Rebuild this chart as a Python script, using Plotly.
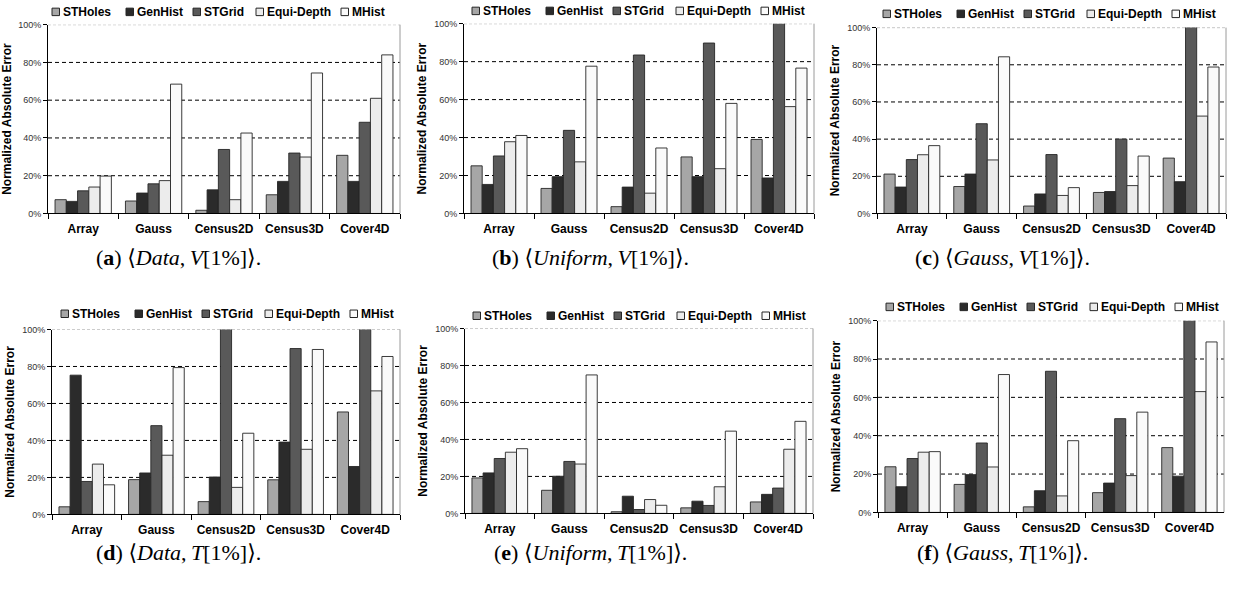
import plotly.graph_objects as go

W, H = 1236, 601

categories = ["Array", "Gauss", "Census2D", "Census3D", "Cover4D"]
methods = ["STHoles", "GenHist", "STGrid", "Equi-Depth", "MHist"]
colors = ["#a6a6a6", "#2b2b2b", "#595959", "#ececec", "#fafafa"]
y_ticks = [0, 20, 40, 60, 80, 100]
y_ticktext = ["0%", "20%", "40%", "60%", "80%", "100%"]

# (a) <Data, V[1%]>
a_stholes = [7.3, 6.6, 1.7, 9.9, 30.8]
a_genhist = [6.4, 10.8, 12.5, 17.0, 17.0]
a_stgrid = [12.0, 15.7, 33.9, 32.0, 48.3]
a_equidepth = [14.0, 17.4, 7.3, 29.9, 61.0]
a_mhist = [19.8, 68.5, 42.6, 74.4, 84.0]

# (b) <Uniform, V[1%]>
b_stholes = [25.1, 13.2, 3.6, 29.8, 39.0]
b_genhist = [15.3, 19.4, 13.9, 19.4, 18.7]
b_stgrid = [30.3, 43.8, 83.5, 89.8, 101.4]
b_equidepth = [37.8, 27.2, 10.7, 23.6, 56.3]
b_mhist = [41.1, 77.6, 34.5, 58.0, 76.6]

# (c) <Gauss, V[1%]>
c_stholes = [21.2, 14.5, 4.0, 11.3, 29.8]
c_genhist = [14.2, 21.2, 10.5, 11.8, 17.1]
c_stgrid = [29.0, 48.3, 31.7, 40.0, 101.4]
c_equidepth = [31.6, 28.8, 9.7, 15.0, 52.4]
c_mhist = [36.5, 84.3, 13.9, 30.9, 78.8]

# (d) <Data, T[1%]>
d_stholes = [4.1, 18.8, 6.9, 18.7, 55.4]
d_genhist = [75.3, 22.4, 20.2, 39.1, 25.9]
d_stgrid = [17.8, 48.0, 101.3, 89.7, 101.3]
d_equidepth = [27.2, 32.0, 14.6, 35.2, 66.8]
d_mhist = [16.0, 79.4, 43.9, 89.2, 85.4]

# (e) <Uniform, T[1%]>
e_stholes = [19.2, 12.5, 0.9, 3.0, 6.2]
e_genhist = [21.9, 20.1, 9.3, 6.6, 10.3]
e_stgrid = [29.7, 28.1, 2.1, 4.3, 13.7]
e_equidepth = [33.1, 26.7, 7.5, 14.4, 34.7]
e_mhist = [35.0, 74.9, 4.4, 44.5, 49.8]

# (f) <Gauss, T[1%]>
f_stholes = [23.8, 14.6, 2.9, 10.3, 33.8]
f_genhist = [13.4, 19.7, 11.3, 15.3, 18.9]
f_stgrid = [28.1, 36.2, 73.6, 48.9, 101.3]
f_equidepth = [31.4, 23.7, 8.6, 19.2, 63.0]
f_mhist = [31.7, 71.9, 37.4, 52.3, 88.9]

panels_values = [
    [a_stholes, a_genhist, a_stgrid, a_equidepth, a_mhist],
    [b_stholes, b_genhist, b_stgrid, b_equidepth, b_mhist],
    [c_stholes, c_genhist, c_stgrid, c_equidepth, c_mhist],
    [d_stholes, d_genhist, d_stgrid, d_equidepth, d_mhist],
    [e_stholes, e_genhist, e_stgrid, e_equidepth, e_mhist],
    [f_stholes, f_genhist, f_stgrid, f_equidepth, f_mhist],
]
captions = [
    "(<b>a</b>) \u27e8<i>Data</i>,\u2009<i>V</i>[1%]\u27e9.",
    "(<b>b</b>) \u27e8<i>Uniform</i>,\u2009<i>V</i>[1%]\u27e9.",
    "(<b>c</b>) \u27e8<i>Gauss</i>,\u2009<i>V</i>[1%]\u27e9.",
    "(<b>d</b>) \u27e8<i>Data</i>,\u2009<i>T</i>[1%]\u27e9.",
    "(<b>e</b>) \u27e8<i>Uniform</i>,\u2009<i>T</i>[1%]\u27e9.",
    "(<b>f</b>) \u27e8<i>Gauss</i>,\u2009<i>T</i>[1%]\u27e9.",
]

# layout geometry in pixels: (left, right, top, bottom)
boxes = [
    (48, 400, 20, 212),
    (464, 814, 19, 212),
    (877, 1226, 23, 212),
    (52, 400, 330, 518),
    (465, 813, 329, 517),
    (878, 1224, 321, 516),
]
legend_pos = [(52, 7), (472, 6), (883, 9), (61, 314), (473, 316), (886, 307)]
legend_offsets = [0, 74, 141, 204, 289]
caption_pos = [(178, 257), (590, 257), (1002, 257), (178, 557), (590, 557), (1002, 557)]


def X(px):
    return px / W


def Y(py):
    return 1 - py / H


fig = go.Figure()
shapes = []
annotations = []
layout_axes = {}

for i, vals in enumerate(panels_values):
    n = i + 1
    xa = "x" if n == 1 else f"x{n}"
    ya = "y" if n == 1 else f"y{n}"
    for m, name in enumerate(methods):
        fig.add_trace(go.Bar(
            x=categories, y=vals[m], name=name,
            xaxis=xa, yaxis=ya,
            marker=dict(color=colors[m], line=dict(color="#262626", width=0.9)),
            showlegend=False, cliponaxis=False, hoverinfo="x+y+name",
        ))
    l, r, t, b = boxes[i]
    layout_axes["xaxis" if n == 1 else f"xaxis{n}"] = dict(
        domain=[X(l), X(r)], anchor=ya, type="category",
        categoryorder="array", categoryarray=categories,
        tickson="boundaries", ticks="outside", ticklen=5, tickcolor="black",
        showline=True, linecolor="black", linewidth=1, showgrid=False,
        tickfont=dict(size=12, color="black", weight="bold"),
        ticklabelstandoff=4,
    )
    layout_axes["yaxis" if n == 1 else f"yaxis{n}"] = dict(
        domain=[Y(b), Y(t)], anchor=xa, range=[0, 100],
        tickvals=y_ticks, ticktext=y_ticktext,
        ticks="outside", ticklen=4, tickcolor="black",
        showline=True, linecolor="black", linewidth=1,
        showgrid=False, zeroline=False,
        tickfont=dict(size=9, color="#333333"),
        title=dict(text="Normalized Absolute Error", standoff=4,
                   font=dict(size=12, color="black", weight="bold")),
    )
    # grid lines
    for v in y_ticks[1:-1]:
        shapes.append(dict(type="line", xref=f"{xa} domain", yref=ya,
                           x0=0, x1=1, y0=v, y1=v, layer="below",
                           line=dict(color="black", width=1, dash="4px,3px")))
    shapes.append(dict(type="line", xref=f"{xa} domain", yref=ya,
                       x0=0, x1=1, y0=100, y1=100, layer="below",
                       line=dict(color="#9a9a9a", width=1, dash="3px,2px")))
    shapes.append(dict(type="line", xref=f"{xa} domain", yref=f"{ya} domain",
                       x0=1, x1=1, y0=0, y1=1, layer="below",
                       line=dict(color="#9a9a9a", width=1)))
    # legend
    lx, ly = legend_pos[i]
    for m, name in enumerate(methods):
        sx = lx + legend_offsets[m]
        shapes.append(dict(type="rect", xref="paper", yref="paper",
                           x0=X(sx), x1=X(sx + 7.5), y0=Y(ly + 3.8), y1=Y(ly - 3.8),
                           fillcolor=colors[m], line=dict(color="#262626", width=1)))
        annotations.append(dict(xref="paper", yref="paper", x=X(sx + 9), y=Y(ly),
                                xanchor="left", yanchor="middle", showarrow=False,
                                text=f"<b>{name}</b>",
                                font=dict(size=12, color="black")))
    cx, cy = caption_pos[i]
    annotations.append(dict(xref="paper", yref="paper", x=X(cx), y=Y(cy),
                            xanchor="center", yanchor="middle", showarrow=False,
                            text=captions[i],
                            font=dict(size=22, color="black",
                                      family="Liberation Serif, DejaVu Serif, serif")))

fig.update_layout(
    width=W, height=H,
    margin=dict(l=0, r=0, t=0, b=0),
    paper_bgcolor="white", plot_bgcolor="white",
    barmode="group", bargap=0.2, bargroupgap=0,
    font=dict(family="Liberation Sans, Arial, sans-serif", color="black"),
    shapes=shapes, annotations=annotations,
    **layout_axes,
)

fig.write_html(
    "out.html",
    config={"displayModeBar": False},
    post_script="document.body.style.margin='0';document.body.style.overflow='hidden';",
)
